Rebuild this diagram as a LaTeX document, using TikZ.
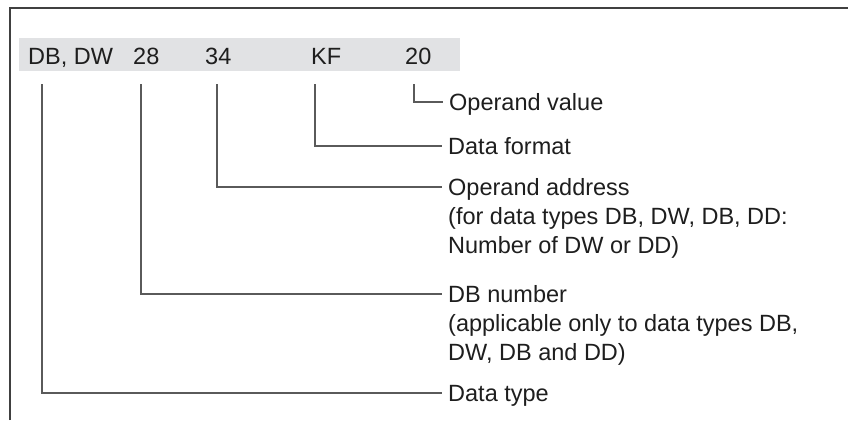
\documentclass[tikz,border=0pt]{standalone}
\usepackage{fontspec}
\setmainfont{Liberation Sans}
\definecolor{bandgray}{HTML}{E1E2E4}
\definecolor{linegray}{HTML}{5A5A5A}
\definecolor{txt}{HTML}{1E1E1E}
\begin{document}
\begin{tikzpicture}[x=1pt,y=-1pt,
  top/.style={inner sep=0pt, anchor=base west, text=txt, font=\fontsize{23.5}{29}\selectfont},
  lbl/.style={inner xsep=6pt, inner ysep=0pt, anchor=base west, align=left, text=txt, font=\fontsize{23.5}{29}\selectfont},
  conn/.style={draw=linegray, line width=1.2pt}]
\useasboundingbox (0,0) rectangle (848,420);
\draw[line width=1.3pt, draw=black!75] (10,420) -- (10,8) -- (848,8);
\fill[bandgray] (19,38) rectangle (460,71);
\node[top] (tDB) at (28,65) {DB, DW};
\node[top] (t28) at (133,65) {28};
\node[top] (t34) at (205,65) {34};
\node[top] (tKF) at (311,65) {KF};
\node[top] (t20) at (405,65) {20};
% connector start points below the fields
\coordinate (s1) at (414,84);
\coordinate (s2) at (315,84);
\coordinate (s3) at (217,84);
\coordinate (s4) at (141,84);
\coordinate (s5) at (42,84);
% connector ends
\coordinate (e1) at (443,102);
\coordinate (e2) at (442,146);
\coordinate (e3) at (442,187);
\coordinate (e4) at (442,294);
\coordinate (e5) at (442,393);
\node[lbl] (lval) at ([yshift=-8.4pt]e1) {Operand value};
\node[lbl] (lfmt) at ([yshift=-8.4pt]e2) {Data format};
\node[lbl] (laddr) at ([yshift=-66.4pt]e3) {Operand address\\(for data types DB, DW, DB, DD:\\Number of DW or DD)};
\node[lbl] (lnum) at ([yshift=-66.4pt]e4) {DB number\\(applicable only to data types DB,\\DW, DB and DD)};
\node[lbl] (ltype) at ([yshift=-8.4pt]e5) {Data type};
\draw[conn] (s1) |- (e1);
\draw[conn] (s2) |- (e2);
\draw[conn] (s3) |- (e3);
\draw[conn] (s4) |- (e4);
\draw[conn] (s5) |- (e5);
\end{tikzpicture}
\end{document}
